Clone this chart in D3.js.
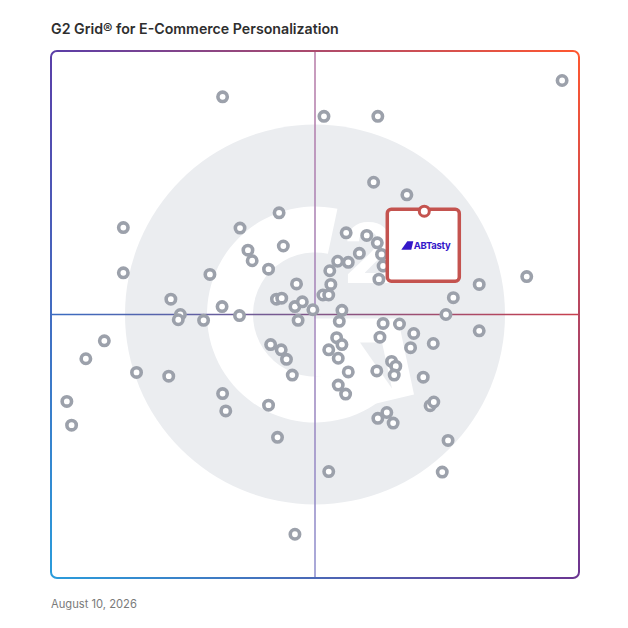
<!DOCTYPE html>
<html>
<head>
<meta charset="utf-8">
<script src="https://cdn.jsdelivr.net/npm/d3@7"></script>
<style>
  body { margin: 0; background: #fff; }
  text { font-family: Inter, "Noto Sans", sans-serif; }
</style>
</head>
<body>
<div id="chart"></div>
<script>
// Market presence (x) and satisfaction (y), 0-100
const presence = [32.5, 13.7, 13.7, 35.8, 43.2, 37.3, 38.1, 44.0, 41.2, 30.1,
	22.7, 32.4, 24.5, 24.1, 28.9, 35.7, 46.5, 42.7, 43.7, 46.2,
	47.6, 49.6, 46.8, 10.1, 6.6, 16.2, 22.3, 3.0, 3.9, 32.5,
	33.1, 41.2, 42.9, 46.2, 41.6, 43.6, 44.6, 45.7, 96.8, 51.7,
	61.9, 61.1, 67.4, 55.9, 59.8, 61.8, 62.6, 62.9, 58.4, 56.3,
	54.3, 52.8, 53.0, 51.5, 52.6, 62.1, 81.1, 90.1, 76.2, 74.8,
	55.1, 81.1, 54.6, 62.9, 66.0, 68.7, 62.3, 72.4, 68.1, 54.1,
	55.1, 52.6, 54.4, 56.3, 64.5, 65.3, 61.7, 65.0, 70.5, 54.4,
	55.8, 71.8, 72.5, 63.6, 61.9, 64.8, 75.2, 52.6, 74.1];
const satisfaction = [91.3, 66.5, 57.9, 66.4, 69.3, 62.2, 60.2, 63.0, 58.6, 57.6,
	52.9, 51.5, 50.0, 49.0, 48.9, 49.8, 55.8, 52.9, 53.1, 51.5,
	52.4, 50.9, 48.9, 45.0, 41.6, 39.0, 38.3, 33.5, 29.0, 35.0,
	31.7, 32.8, 26.7, 8.3, 44.3, 43.3, 41.5, 38.5, 94.4, 87.6,
	87.6, 75.1, 72.7, 65.5, 65.0, 63.6, 61.4, 59.2, 61.6, 59.9,
	60.1, 58.3, 55.7, 53.7, 53.7, 56.7, 55.7, 57.2, 53.2, 50.0,
	50.8, 46.9, 48.7, 48.3, 48.2, 46.4, 45.7, 44.5, 43.7, 45.6,
	44.3, 43.3, 41.7, 39.1, 41.1, 40.2, 39.3, 38.5, 38.1, 36.6,
	34.9, 32.7, 33.4, 31.4, 30.3, 29.4, 26.1, 20.2, 20.1];

// highlighted product
const featured = { name: "ABTasty", presence: 70.7, satisfaction: 69.6 };

const title = "G2 Grid® for E-Commerce Personalization";
const dateLabel = "August 10, 2026";

const width = 628, height = 628;
const gLeft = 51, gRight = 579, gTop = 51, gBottom = 578;

const x = d3.scaleLinear().domain([0, 100]).range([gLeft, gRight]);
const y = d3.scaleLinear().domain([0, 100]).range([gBottom, gTop]);

const svg = d3.select("#chart").append("svg")
	.attr("width", width)
	.attr("height", height);

const defs = svg.append("defs");
function gradient(id, x1, y1, x2, y2, c1, c2) {
	const g = defs.append("linearGradient")
		.attr("id", id)
		.attr("gradientUnits", "userSpaceOnUse")
		.attr("x1", x1).attr("y1", y1).attr("x2", x2).attr("y2", y2);
	g.append("stop").attr("offset", 0).attr("stop-color", c1);
	g.append("stop").attr("offset", 1).attr("stop-color", c2);
}
gradient("edgeTop", gLeft, 0, gRight, 0, "#5a3ea8", "#ff5730");
gradient("edgeLeft", 0, gTop, 0, gBottom, "#5a3ea8", "#2a9cdb");
gradient("edgeBottom", gLeft, 0, gRight, 0, "#2a9cdb", "#6b3592");
gradient("edgeRight", 0, gTop, 0, gBottom, "#ff5730", "#6b3592");
gradient("lineH", gLeft, 0, gRight, 0, "#3a6cc2", "#c8404e");
gradient("lineV", 0, gTop, 0, gBottom, "#b77aa6", "#8c8ccc");

// title and date
svg.append("text")
	.attr("x", gLeft).attr("y", 34)
	.attr("font-size", "14.2px")
	.attr("font-weight", 600)
	.attr("fill", "#2e2e2e")
	.text(title);

svg.append("text")
	.attr("x", gLeft).attr("y", 608)
	.attr("font-size", "11.2px")
	.attr("fill", "#7a7a7a")
	.text(dateLabel);

// G2 watermark
const cx = x(50), cy = y(50);
const mark = svg.append("g").attr("transform", `translate(${cx},${cy})`);
mark.append("circle").attr("r", 190).attr("fill", "#ebedf0");
mark.append("path")
	.attr("d", d3.arc().innerRadius(62).outerRadius(108)
		.startAngle(143 * Math.PI / 180).endAngle(372 * Math.PI / 180)())
	.attr("fill", "#fff");
mark.append("path")
	.attr("d", "M-1,4 L83,4 L99,80 L57,90 L25,62 L-1,62 Z")
	.attr("fill", "#fff");
mark.append("path")
	.attr("d", "M45,28 L67,28 L77,74 Z")
	.attr("fill", "#ebedf0");
mark.append("text")
	.attr("x", 28).attr("y", -32)
	.attr("font-family", "Liberation Sans, Arial, sans-serif")
	.attr("font-size", "82px")
	.attr("font-weight", 700)
	.attr("fill", "#fff")
	.text("2");

// quadrant lines
svg.append("line")
	.attr("x1", gLeft).attr("x2", gRight)
	.attr("y1", cy).attr("y2", cy)
	.attr("stroke", "url(#lineH)").attr("stroke-width", 1.5);
svg.append("line")
	.attr("x1", cx).attr("x2", cx)
	.attr("y1", gTop).attr("y2", gBottom)
	.attr("stroke", "url(#lineV)").attr("stroke-width", 1.5);

// frame, one gradient per side
const r = 6;
const frame = svg.append("g").attr("fill", "none").attr("stroke-width", 2);
frame.append("path")
	.attr("d", `M${gLeft},${gTop + r} A${r},${r} 0 0 1 ${gLeft + r},${gTop} H${gRight - r} A${r},${r} 0 0 1 ${gRight},${gTop + r}`)
	.attr("stroke", "url(#edgeTop)");
frame.append("path")
	.attr("d", `M${gLeft},${gTop + r} V${gBottom - r}`)
	.attr("stroke", "url(#edgeLeft)");
frame.append("path")
	.attr("d", `M${gLeft},${gBottom - r} A${r},${r} 0 0 0 ${gLeft + r},${gBottom} H${gRight - r} A${r},${r} 0 0 0 ${gRight},${gBottom - r}`)
	.attr("stroke", "url(#edgeBottom)");
frame.append("path")
	.attr("d", `M${gRight},${gTop + r} V${gBottom - r}`)
	.attr("stroke", "url(#edgeRight)");

// products
const points = presence.map((p, i) => [p, satisfaction[i]]);
svg.append("g")
	.selectAll("circle")
	.data(points)
	.join("circle")
	.attr("cx", d => x(d[0]))
	.attr("cy", d => y(d[1]))
	.attr("r", 4.7)
	.attr("fill", "#fff")
	.attr("stroke", "#9ca1ab")
	.attr("stroke-width", 3.6);

// featured product box
const fx = x(featured.presence), fy = y(featured.satisfaction);
const box = svg.append("g");
box.append("rect")
	.attr("x", fx - 37).attr("y", fy - 2)
	.attr("width", 72).attr("height", 72)
	.attr("rx", 4)
	.attr("fill", "#fff")
	.attr("stroke", "#c4534f")
	.attr("stroke-width", 3.5);
box.append("circle")
	.attr("cx", fx).attr("cy", fy)
	.attr("r", 5)
	.attr("fill", "#fff")
	.attr("stroke", "#c4534f")
	.attr("stroke-width", 3);
// logo mark
box.append("path")
	.attr("d", `M${fx - 23},${fy + 38.5} L${fx - 17},${fy + 30} L${fx - 11},${fy + 30} L${fx - 13},${fy + 38.5} Z`)
	.attr("fill", "#3417c9");
box.append("text")
	.attr("x", fx - 10.5).attr("y", fy + 37.8)
	.attr("font-size", "9.5px")
	.attr("font-weight", 700)
	.attr("letter-spacing", "-0.3px")
	.attr("fill", "#3417c9")
	.text(featured.name);
</script>
</body>
</html>
